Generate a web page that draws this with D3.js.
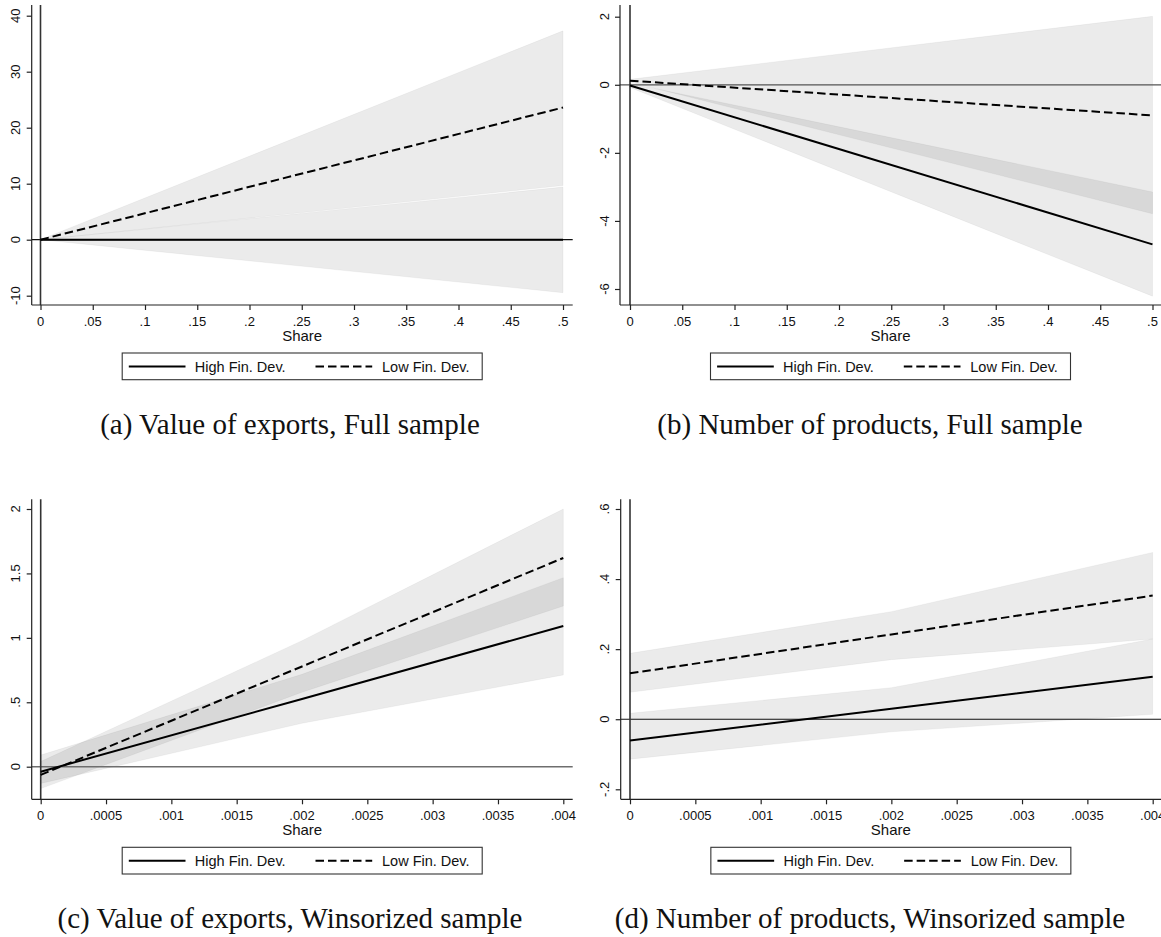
<!DOCTYPE html>
<html><head><meta charset="utf-8">
<script src="https://cdn.jsdelivr.net/npm/d3@7"></script>
<style>body{margin:0;background:#fff} svg{display:block}</style>
</head><body><svg id="c" width="1161" height="937"></svg>
<script>
// ---------------- data ----------------
const shareFull = [0, 0.5];
const shareWins = [0, 0.002, 0.004];

// (a) Value of exports, Full sample
const aHigh   = [0, 0];
const aHighLo = [0, -9.46];
const aHighHi = [0, 9.4];
const aLow    = [0, 23.6];
const aLowLo  = [0, 9.66];
const aLowHi  = [0, 37.3];

// (b) Number of products, Full sample
const bHigh   = [-0.02, -4.69];
const bHighLo = [-0.08, -6.21];
const bHighHi = [0.04, -3.15];
const bLow    = [0.12, -0.90];
const bLowLo  = [0.08, -3.79];
const bLowHi  = [0.16, 2.01];

// (c) Value of exports, Winsorized sample
const cHigh   = [-0.039, 0.526, 1.092];
const cHighLo = [-0.13, 0.337, 0.712];
const cHighHi = [0.09, 0.717, 1.467];
const cLow    = [-0.064, 0.778, 1.62];
const cLowLo  = [-0.17, 0.578, 1.247];
const cLowHi  = [0.04, 0.978, 2.0];

// (d) Number of products, Winsorized sample
const dHigh   = [-0.061, 0.03, 0.121];
const dHighLo = [-0.114, -0.036, 0.014];
const dHighHi = [0.017, 0.09, 0.229];
const dLow    = [0.131, 0.242, 0.353];
const dLowLo  = [0.077, 0.17, 0.229];
const dLowHi  = [0.188, 0.307, 0.476];

const xTicksFull  = [0, 0.05, 0.1, 0.15, 0.2, 0.25, 0.3, 0.35, 0.4, 0.45, 0.5];
const xLabelsFull = ["0", ".05", ".1", ".15", ".2", ".25", ".3", ".35", ".4", ".45", ".5"];
const xTicksWins  = [0, 0.0005, 0.001, 0.0015, 0.002, 0.0025, 0.003, 0.0035, 0.004];
const xLabelsWins = ["0", ".0005", ".001", ".0015", ".002", ".0025", ".003", ".0035", ".004"];

const yTicksA = [-10, 0, 10, 20, 30, 40];   const yLabelsA = ["-10", "0", "10", "20", "30", "40"];
const yTicksB = [-6, -4, -2, 0, 2];          const yLabelsB = ["-6", "-4", "-2", "0", "2"];
const yTicksC = [0, 0.5, 1, 1.5, 2];         const yLabelsC = ["0", ".5", "1", "1.5", "2"];
const yTicksD = [-0.2, 0, 0.2, 0.4, 0.6];    const yLabelsD = ["-.2", "0", ".2", ".4", ".6"];

const seriesNames = ["High Fin. Dev.", "Low Fin. Dev."];
const xTitle = "Share";
const captions = ["(a) Value of exports, Full sample", "(b) Number of products, Full sample",
                  "(c) Value of exports, Winsorized sample", "(d) Number of products, Winsorized sample"];

// ---------------- layout ----------------
const panels = [
  {xs: shareFull, high: aHigh, highLo: aHighLo, highHi: aHighHi, low: aLow, lowLo: aLowLo, lowHi: aLowHi,
   xT: xTicksFull, xL: xLabelsFull, yT: yTicksA, yL: yLabelsA, cap: captions[0],
   xDom: [0, 0.5], yDom: [-10, 40], spineX: 31.7, x0: 40.5, x1: 563, axisEnd: 572.7,
   yTop: 5, yBot: 305, yPx: [295.7, 15.7], capX: 290, ylineColor: "#111", ylineW: 1.2},
  {xs: shareFull, high: bHigh, highLo: bHighLo, highHi: bHighHi, low: bLow, lowLo: bLowLo, lowHi: bLowHi,
   xT: xTicksFull, xL: xLabelsFull, yT: yTicksB, yL: yLabelsB, cap: captions[1],
   xDom: [0, 0.5], yDom: [-6, 2], spineX: 620, x0: 630, x1: 1152.5, axisEnd: 1161,
   yTop: 5, yBot: 305, yPx: [289, 16.7], capX: 870, ylineColor: "#555", ylineW: 1.3},
  {xs: shareWins, high: cHigh, highLo: cHighLo, highHi: cHighHi, low: cLow, lowLo: cLowLo, lowHi: cLowHi,
   xT: xTicksWins, xL: xLabelsWins, yT: yTicksC, yL: yLabelsC, cap: captions[2],
   xDom: [0, 0.004], yDom: [0, 2], spineX: 31.7, x0: 40.7, x1: 563.3, axisEnd: 572.7,
   yTop: 499.3, yBot: 799.3, yPx: [766.7, 509], capX: 290, ylineColor: "#6e6e6e", ylineW: 1.6},
  {xs: shareWins, high: dHigh, highLo: dHighLo, highHi: dHighHi, low: dLow, lowLo: dLowLo, lowHi: dLowHi,
   xT: xTicksWins, xL: xLabelsWins, yT: yTicksD, yL: yLabelsD, cap: captions[3],
   xDom: [0, 0.004], yDom: [-0.2, 0.6], spineX: 620.7, x0: 630, x1: 1152.7, axisEnd: 1161,
   yTop: 499.3, yBot: 799.3, yPx: [789.3, 509], capX: 870, ylineColor: "#111", ylineW: 1.2}
];

const svg = d3.select("#c");
const SANS = "'Liberation Sans', Arial, Helvetica, sans-serif";
const SERIF = "'Liberation Serif', 'Times New Roman', serif";
const DASH = "8.5,4";

panels.forEach(p => {
  const g = svg.append("g");
  const x = d3.scaleLinear().domain(p.xDom).range([p.x0, p.x1]);
  const y = d3.scaleLinear().domain(p.yDom).range(p.yPx);

  // CI bands
  const band = (lo, hi) => d3.area()
      .x((d, i) => x(p.xs[i])).y0((d, i) => y(lo[i])).y1((d, i) => y(hi[i]))(p.xs);
  [[p.highLo, p.highHi], [p.lowLo, p.lowHi]].forEach(([lo, hi]) => {
    g.append("path").attr("d", band(lo, hi))
      .attr("fill", "#000").attr("fill-opacity", 0.078)
      .attr("stroke", "#000").attr("stroke-opacity", 0.05).attr("stroke-width", 0.8);
  });

  // reference lines
  g.append("line").attr("x1", p.spineX).attr("x2", p.axisEnd)
    .attr("y1", y(0)).attr("y2", y(0))
    .attr("stroke", p.ylineColor).attr("stroke-width", p.ylineW);
  g.append("line").attr("x1", x(0)).attr("x2", x(0))
    .attr("y1", p.yTop).attr("y2", p.yBot)
    .attr("stroke", "#333").attr("stroke-width", 1.6);

  // series lines
  const line = vals => d3.line().x((d, i) => x(p.xs[i])).y((d, i) => y(vals[i]))(p.xs);
  g.append("path").attr("d", line(p.high)).attr("fill", "none")
    .attr("stroke", "#000").attr("stroke-width", 2);
  g.append("path").attr("d", line(p.low)).attr("fill", "none")
    .attr("stroke", "#000").attr("stroke-width", 2).attr("stroke-dasharray", DASH);

  // axes
  const xa = g.append("g").attr("transform", `translate(0,${p.yBot})`)
    .call(d3.axisBottom(x).tickValues(p.xT).tickSize(5).tickFormat(""));
  xa.select(".domain").remove();
  xa.selectAll(".tick line").attr("stroke", "#222").attr("stroke-width", 1.2);
  const ya = g.append("g").attr("transform", `translate(${p.spineX},0)`)
    .call(d3.axisLeft(y).tickValues(p.yT).tickSize(5).tickFormat(""));
  ya.select(".domain").remove();
  ya.selectAll(".tick line").attr("stroke", "#222").attr("stroke-width", 1.2);

  g.append("line").attr("x1", p.spineX).attr("x2", p.axisEnd).attr("y1", p.yBot).attr("y2", p.yBot)
    .attr("stroke", "#222").attr("stroke-width", 1.2);
  g.append("line").attr("x1", p.spineX).attr("x2", p.spineX).attr("y1", p.yTop).attr("y2", p.yBot)
    .attr("stroke", "#222").attr("stroke-width", 1.2);

  // tick labels
  g.selectAll(".xl").data(p.xT).enter().append("text")
    .attr("x", d => x(d)).attr("y", p.yBot + 20.7)
    .attr("text-anchor", "middle").attr("font-family", SANS).attr("font-size", 13).attr("fill", "#111")
    .text((d, i) => p.xL[i]);
  g.selectAll(".yl").data(p.yT).enter().append("text")
    .attr("transform", d => `translate(${p.spineX - 11.5},${y(d)}) rotate(-90)`)
    .attr("text-anchor", "middle").attr("font-family", SANS).attr("font-size", 13).attr("fill", "#111")
    .text((d, i) => p.yL[i]);

  const cx = (p.spineX + p.axisEnd) / 2;
  g.append("text").attr("x", cx).attr("y", p.yBot + 36)
    .attr("text-anchor", "middle").attr("font-family", SANS).attr("font-size", 15).attr("fill", "#111")
    .text(xTitle);

  // legend
  const L = cx - 180, T = p.yBot + 48;
  g.append("rect").attr("x", L).attr("y", T).attr("width", 360).attr("height", 26.7)
    .attr("fill", "#fff").attr("stroke", "#333").attr("stroke-width", 1.1);
  const ly = T + 13.4;
  g.append("line").attr("x1", L + 6.6).attr("x2", L + 63.3).attr("y1", ly).attr("y2", ly)
    .attr("stroke", "#000").attr("stroke-width", 2);
  g.append("line").attr("x1", L + 193.3).attr("x2", L + 250).attr("y1", ly).attr("y2", ly)
    .attr("stroke", "#000").attr("stroke-width", 2).attr("stroke-dasharray", DASH);
  g.append("text").attr("x", L + 72.6).attr("y", T + 18.7)
    .attr("font-family", SANS).attr("font-size", 14.5).attr("fill", "#111").text(seriesNames[0]);
  g.append("text").attr("x", L + 259.8).attr("y", T + 18.7)
    .attr("font-family", SANS).attr("font-size", 14.5).attr("fill", "#111").text(seriesNames[1]);

  // caption
  g.append("text").attr("x", p.capX).attr("y", p.yBot + 128.7)
    .attr("text-anchor", "middle").attr("font-family", SERIF).attr("font-size", 29).attr("fill", "#111")
    .text(p.cap);
});
</script>
</body></html>
